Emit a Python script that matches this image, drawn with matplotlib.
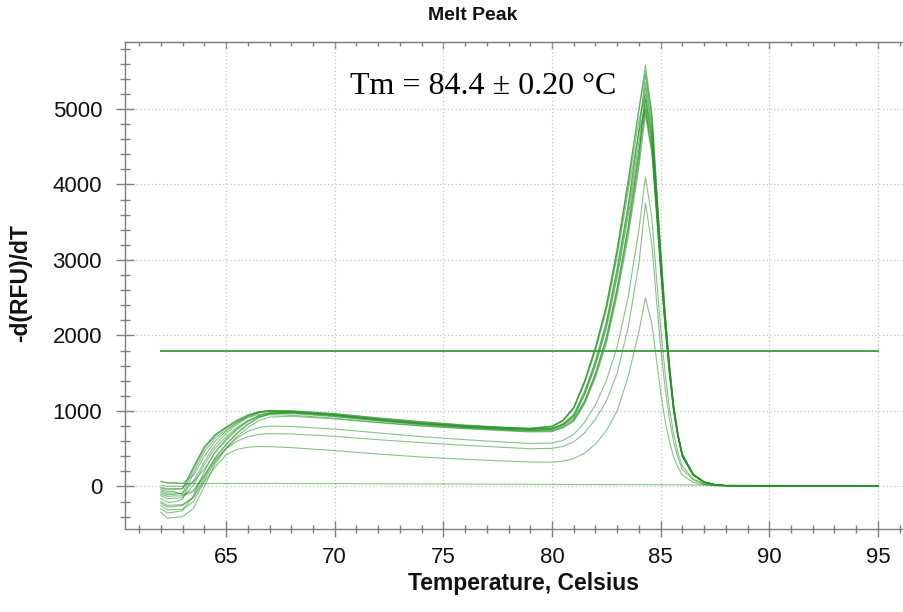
import matplotlib
matplotlib.use("Agg")
import matplotlib.pyplot as plt
from matplotlib.ticker import MultipleLocator, FixedLocator, NullFormatter

plt.rcParams['font.family'] = ['Liberation Sans', 'DejaVu Sans']

# Temperature sampling grid (Celsius)
temps = [62.0, 62.3, 62.6, 63.0, 63.5, 64.0, 64.5, 65.0, 65.5, 66.0, 66.5, 67.0,
         68.0, 70.0, 72.0, 74.0, 76.0, 78.0, 79.0, 80.0, 80.5, 81.0, 81.5, 82.0,
         82.5, 83.0, 83.5, 84.0, 84.3, 84.6, 84.8, 85.0, 85.2, 85.4, 85.6, 85.8,
         86.0, 86.5, 87.0, 87.5, 88.0, 90.0, 95.0]

# -d(RFU)/dT for each well
well_a = [60, 50, 55, 40, 150, 400, 600, 730, 845, 935, 985, 1010, 1005, 965, 905, 855, 810, 780, 770, 800, 880, 1050, 1400, 1850, 2400, 3150, 4050, 5000, 5580, 4950, 4050, 3150, 2350, 1650, 1080, 700, 430, 165, 62, 26, 12, 6, 3]
well_b = [-10, -30, -25, -30, 250, 520, 680, 780, 870, 940, 985, 1000, 990, 945, 885, 835, 795, 768, 758, 770, 830, 955, 1260, 1670, 2180, 2900, 3720, 4720, 5450, 4850, 3980, 3100, 2300, 1620, 1060, 690, 425, 160, 60, 25, 12, 6, 3]
well_c = [-40, -70, -65, -110, -50, 150, 380, 560, 710, 830, 915, 960, 980, 950, 890, 838, 796, 766, 756, 770, 828, 948, 1245, 1650, 2160, 2870, 3700, 4680, 5350, 4780, 3920, 3060, 2270, 1600, 1050, 680, 420, 158, 60, 25, 12, 6, 3]
well_d = [-60, -90, -88, -90, 70, 330, 550, 700, 820, 915, 975, 995, 985, 940, 880, 828, 785, 752, 740, 742, 792, 885, 1125, 1490, 1960, 2620, 3420, 4380, 5280, 4720, 3870, 3020, 2240, 1580, 1040, 675, 415, 156, 58, 24, 12, 6, 3]
well_e = [-80, -110, -105, -90, 230, 500, 670, 775, 865, 935, 978, 995, 988, 948, 890, 840, 800, 775, 768, 795, 870, 1035, 1380, 1820, 2360, 3100, 3980, 4850, 5200, 4650, 3820, 2990, 2220, 1570, 1030, 670, 410, 155, 58, 24, 12, 6, 3]
well_f = [-100, -130, -125, -125, -70, 140, 370, 550, 700, 820, 910, 960, 975, 930, 872, 822, 785, 755, 745, 758, 815, 930, 1220, 1620, 2120, 2820, 3640, 4560, 5120, 4590, 3780, 2950, 2200, 1550, 1020, 665, 405, 153, 57, 24, 12, 6, 3]
well_g = [-120, -160, -155, -150, 20, 290, 510, 660, 780, 870, 925, 950, 945, 905, 850, 805, 770, 742, 730, 735, 785, 875, 1110, 1470, 1930, 2580, 3360, 4300, 5050, 4520, 3730, 2920, 2170, 1530, 1010, 660, 400, 150, 56, 23, 11, 6, 3]
well_h = [-160, -210, -205, -170, 180, 460, 640, 750, 845, 915, 955, 970, 965, 925, 868, 818, 780, 752, 742, 755, 812, 925, 1210, 1600, 2090, 2770, 3570, 4450, 4980, 4460, 3690, 2890, 2150, 1520, 1000, 655, 398, 150, 56, 23, 11, 6, 3]
well_i = [-220, -270, -265, -250, -150, 80, 330, 510, 660, 780, 870, 920, 930, 895, 845, 800, 765, 735, 722, 725, 775, 860, 1090, 1440, 1890, 2530, 3300, 4230, 4920, 4400, 3640, 2860, 2120, 1500, 990, 648, 395, 148, 55, 23, 11, 6, 3]
well_j = [-300, -350, -340, -320, -120, 200, 460, 630, 765, 870, 940, 975, 985, 945, 885, 835, 795, 770, 762, 790, 865, 1030, 1370, 1800, 2330, 3050, 3900, 4700, 5000, 4450, 3670, 2870, 2130, 1500, 990, 648, 395, 148, 55, 23, 11, 6, 3]
well_n = [20, 0, 5, 0, 60, 230, 450, 610, 750, 860, 935, 975, 990, 955, 898, 848, 805, 778, 770, 798, 875, 1045, 1395, 1840, 2390, 3140, 4030, 4980, 5500, 4900, 4010, 3120, 2320, 1630, 1070, 695, 428, 162, 61, 25, 12, 6, 3]
well_o = [-20, -45, -40, -30, 260, 530, 690, 790, 880, 950, 990, 1005, 1000, 965, 910, 860, 815, 780, 765, 770, 815, 905, 1140, 1500, 1980, 2640, 3440, 4420, 5150, 4610, 3800, 2970, 2210, 1560, 1025, 668, 408, 154, 57, 24, 12, 6, 3]
well_k = [-340, -420, -410, -400, -290, 0, 300, 500, 640, 730, 780, 800, 795, 760, 710, 660, 620, 585, 570, 575, 610, 690, 850, 1080, 1400, 1850, 2500, 3400, 4100, 3550, 2800, 2100, 1520, 1050, 690, 440, 270, 100, 38, 16, 8, 4, 2]
well_l = [-200, -250, -245, -240, -140, 120, 350, 500, 600, 660, 690, 700, 695, 665, 620, 580, 545, 515, 500, 505, 530, 590, 710, 890, 1130, 1500, 2100, 2950, 3750, 3200, 2500, 1850, 1320, 900, 590, 375, 230, 85, 32, 14, 7, 4, 2]
well_m = [-250, -310, -305, -300, -200, 60, 260, 420, 490, 520, 530, 528, 515, 475, 430, 390, 360, 335, 325, 322, 335, 370, 440, 560, 740, 1000, 1450, 2050, 2500, 2150, 1700, 1250, 880, 600, 390, 250, 150, 55, 22, 10, 5, 3, 2]
well_ntc = [70, 45, 40, 40, 40, 40, 40, 40, 40, 40, 40, 40, 39, 38, 36, 34, 32, 30, 29, 28, 27, 27, 26, 26, 25, 25, 24, 24, 24, 23, 23, 23, 22, 22, 22, 21, 21, 20, 19, 18, 17, 14, 5]

wells = [well_a, well_b, well_c, well_d, well_e, well_f, well_g, well_h,
         well_i, well_j, well_n, well_o, well_k, well_l, well_m, well_ntc]

threshold = 1800
threshold_span = [62.0, 95.0]
tm_label = "Tm = 84.4 \u00b1 0.20 \u00b0C"

W, H = 904, 612
fig = plt.figure(figsize=(W / 100, H / 100), dpi=100)
ax = fig.add_axes([125 / W, 1 - 529 / H, 1 - 125 / W, (529 - 42) / H])

green = "#259325"
for w in wells:
    ax.plot(temps, w, color=green, lw=0.8, alpha=0.55, solid_joinstyle="round")
ax.plot(threshold_span, [threshold, threshold], color="#3a9a3a", lw=1.3)

ax.set_xlim(60.35, 96.2)
ax.set_ylim(-563, 5887)

spine_col = "#7f7f7f"
ax.spines["right"].set_visible(False)
for side in ("left", "bottom", "top"):
    ax.spines[side].set_color(spine_col)
    ax.spines[side].set_linewidth(1.0)

ax.xaxis.set_major_locator(MultipleLocator(5))
ax.xaxis.set_minor_locator(MultipleLocator(1))
ax.yaxis.set_major_locator(FixedLocator([0, 1000, 2000, 3000, 4000, 5000]))
ax.yaxis.set_minor_locator(MultipleLocator(200))

ax.tick_params(axis="both", which="major", direction="inout", color=spine_col,
               labelsize=16, labelcolor="#111111")
ax.tick_params(axis="y", which="major", length=13, width=1, pad=10)
ax.tick_params(axis="y", which="minor", direction="inout", length=7, width=1, color=spine_col)
ax.tick_params(axis="x", which="major", length=12, width=1, pad=7)
ax.tick_params(axis="x", which="minor", direction="inout", length=6, width=1, color=spine_col)

top = ax.secondary_xaxis("top")
top.xaxis.set_major_locator(MultipleLocator(5))
top.xaxis.set_minor_locator(MultipleLocator(1))
top.xaxis.set_major_formatter(NullFormatter())
top.tick_params(which="major", direction="in", length=5, width=1, color=spine_col)
top.tick_params(which="minor", direction="in", length=3, width=1, color=spine_col)
top.spines["top"].set_color(spine_col)

ax.grid(True, which="major", color="#c4c4c4", linestyle=(0, (1, 2)), linewidth=0.9)
ax.set_axisbelow(True)

ax.text(70.7, 5199, tm_label, family=["Liberation Serif", "DejaVu Serif"],
        fontsize=23, color="black", ha="left", va="baseline")

fig.text(473 / W, 1 - 16 / H, "Melt Peak", fontsize=14, fontweight="bold",
         ha="center", va="center", color="#111111")
fig.text(523.5 / W, 1 - 590 / H, "Temperature, Celsius", fontsize=16.5,
         fontweight="bold", ha="center", va="baseline", color="#111111")
fig.text(21 / W, 1 - 283.5 / H, "-d(RFU)/dT", fontsize=16.5, fontweight="bold",
         rotation=90, ha="center", va="center", color="#111111")

fig.savefig("out.png", dpi=100)
